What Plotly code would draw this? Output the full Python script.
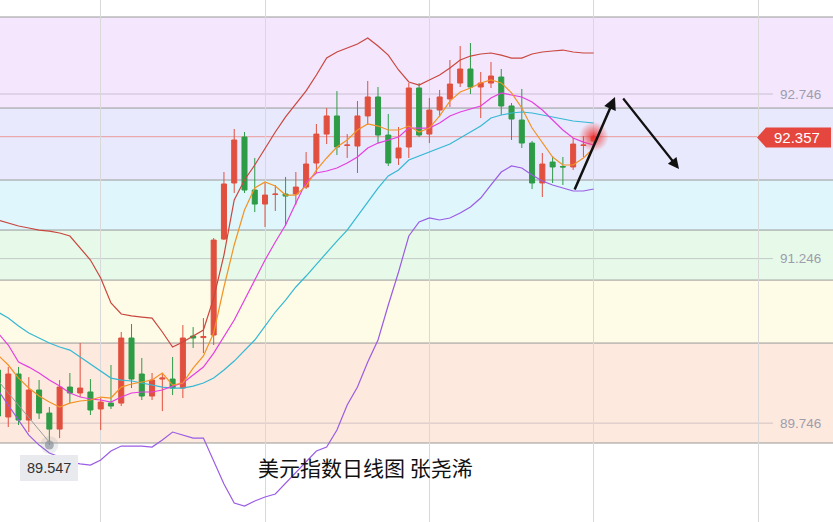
import plotly.graph_objects as go

# ---------------- data ----------------
idx = list(range(59))
opens = [90.230, 89.802, 90.194, 89.774, 90.048, 89.838, 89.692, 90.075, 90.021, 90.030,
         89.875, 89.929, 89.929, 90.522, 90.194, 89.993, 90.148, 90.148, 90.066, 90.540,
         90.526, 90.549, 91.424, 91.935, 92.354, 91.871, 91.743, 91.830, 91.834, 91.834,
         91.898, 92.117, 92.381, 92.546, 92.277, 92.272, 92.546, 92.719, 92.372, 92.163,
         92.263, 92.801, 92.381, 92.600, 92.701, 92.846, 92.974, 92.810, 92.846, 92.901,
         92.637, 92.509, 92.299, 91.935, 92.126, 92.085, 92.081, 92.277, 92.318]
highs = [90.276, 90.258, 90.258, 90.166, 90.139, 89.893, 90.139, 90.203, 90.476, 90.148,
         89.975, 90.276, 90.577, 90.650, 90.340, 90.203, 90.194, 90.349, 90.640, 90.622,
         90.704, 91.433, 92.035, 92.427, 92.400, 92.163, 91.935, 91.917, 91.990, 92.035,
         92.217, 92.473, 92.618, 92.773, 92.381, 92.682, 92.865, 92.810, 92.564, 92.445,
         92.846, 92.846, 92.710, 92.783, 93.056, 93.184, 93.211, 92.947, 93.038, 92.974,
         92.664, 92.792, 92.318, 92.208, 92.181, 92.172, 92.345, 92.363, 92.372]
lows = [89.793, 89.711, 89.729, 89.665, 89.784, 89.547, 89.610, 89.929, 89.984, 89.820,
        89.683, 89.875, 89.902, 90.066, 89.957, 89.957, 89.856, 90.002, 89.975, 90.431,
        90.385, 90.458, 91.415, 91.844, 91.844, 91.670, 91.534, 91.680, 91.543, 91.734,
        91.880, 92.026, 92.290, 92.190, 92.163, 92.026, 92.464, 92.299, 92.090, 92.099,
        92.163, 92.354, 92.299, 92.537, 92.628, 92.810, 92.746, 92.527, 92.801, 92.555,
        92.327, 92.254, 91.880, 91.807, 91.935, 91.917, 92.053, 92.172, 92.299]
closes = [89.811, 90.194, 89.774, 90.048, 89.838, 89.692, 90.075, 90.021, 90.066, 89.866,
          89.938, 89.902, 90.522, 90.148, 89.993, 90.139, 90.157, 90.066, 90.522, 90.522,
          90.536, 91.415, 91.926, 92.327, 91.871, 91.743, 91.825, 91.834, 91.816, 91.898,
          92.108, 92.381, 92.546, 92.263, 92.281, 92.546, 92.719, 92.372, 92.117, 92.254,
          92.801, 92.372, 92.600, 92.719, 92.837, 92.974, 92.810, 92.846, 92.910, 92.637,
          92.518, 92.299, 91.935, 92.108, 92.081, 92.081, 92.290, 92.281, 92.357]

boll_upper = [91.598, 91.571, 91.543, 91.525, 91.506, 91.497, 91.479, 91.452, 91.342, 91.233,
              91.069, 90.841, 90.741, 90.723, 90.713, 90.704, 90.577, 90.440, 90.486, 90.540,
              90.595, 90.886, 91.278, 91.780, 91.962, 92.099, 92.254, 92.400, 92.537, 92.655,
              92.774, 92.919, 93.074, 93.129, 93.165, 93.202, 93.257, 93.184, 93.101, 92.965,
              92.856, 92.828, 92.874, 92.919, 92.983, 93.056, 93.092, 93.111, 93.120, 93.101,
              93.074, 93.074, 93.111, 93.129, 93.138, 93.147, 93.129, 93.120, 93.120]
boll_mid = [90.759, 90.704, 90.631, 90.568, 90.522, 90.476, 90.440, 90.412, 90.348, 90.285,
            90.221, 90.157, 90.139, 90.130, 90.112, 90.093, 90.075, 90.066, 90.066, 90.084,
            90.112, 90.157, 90.230, 90.312, 90.412, 90.504, 90.631, 90.759, 90.868, 90.987,
            91.087, 91.196, 91.306, 91.406, 91.506, 91.634, 91.771, 91.889, 91.999, 92.053,
            92.145, 92.181, 92.218, 92.254, 92.290, 92.345, 92.400, 92.454, 92.527, 92.555,
            92.573, 92.582, 92.573, 92.555, 92.537, 92.518, 92.500, 92.491, 92.482]
boll_lower = [90.048, 89.911, 89.765, 89.637, 89.546, 89.474, 89.437, 89.392, 89.374, 89.364,
              89.410, 89.492, 89.537, 89.537, 89.537, 89.528, 89.592, 89.665, 89.637, 89.610,
              89.610, 89.392, 89.191, 89.018, 88.990, 89.036, 89.073, 89.100, 89.200, 89.300,
              89.392, 89.492, 89.528, 89.683, 89.911, 90.075, 90.303, 90.504, 90.823, 91.124,
              91.452, 91.580, 91.616, 91.598, 91.616, 91.661, 91.716, 91.798, 91.917, 92.035,
              92.090, 92.072, 92.008, 91.953, 91.917, 91.889, 91.862, 91.862, 91.880]
ma5 = [90.367, 90.276, 90.157, 90.066, 89.993, 89.938, 89.893, 89.929, 89.948, 89.957,
       89.984, 89.975, 90.075, 90.103, 90.121, 90.139, 90.203, 90.093, 90.112, 90.248,
       90.358, 90.568, 90.987, 91.370, 91.689, 91.889, 91.944, 91.908, 91.825, 91.825,
       91.908, 92.053, 92.163, 92.263, 92.327, 92.418, 92.473, 92.454, 92.418, 92.418,
       92.454, 92.400, 92.436, 92.546, 92.682, 92.765, 92.801, 92.847, 92.874, 92.847,
       92.756, 92.619, 92.436, 92.299, 92.172, 92.099, 92.099, 92.163, 92.254]
ma10 = [90.568, 90.458, 90.303, 90.257, 90.203, 90.139, 90.084, 90.021, 89.984, 89.966,
        89.957, 89.938, 89.984, 90.021, 90.030, 90.030, 90.048, 90.084, 90.112, 90.185,
        90.257, 90.385, 90.540, 90.686, 90.868, 91.051, 91.233, 91.397, 91.552, 91.752,
        91.944, 92.026, 92.044, 92.072, 92.117, 92.172, 92.254, 92.299, 92.327, 92.354,
        92.436, 92.436, 92.436, 92.482, 92.546, 92.582, 92.610, 92.637, 92.710, 92.756,
        92.737, 92.719, 92.673, 92.600, 92.509, 92.418, 92.345, 92.308, 92.281]

band_edges = [93.448, 92.618, 91.962, 91.506, 91.050, 90.476, 89.565]
band_colors = ["#f3e6fd", "#e9e9fd", "#dff6fc", "#e7fae9", "#fefbe7", "#fde9de"]
level_values = [92.746, 91.246, 89.746]
level_labels = ["92.746", "91.246", "89.746"]
current_price = 92.357
current_label = "92.357"
low_index = 5
low_price = 89.547
low_label = "89.547"
grid_x = [10, 26, 42, 58, 74]
title_text = "美元指数日线图 张尧浠"

# ---------------- layout helpers ----------------
W, H = 833, 522
def px(x):
    return x / W
def py(y):
    return 1 - y / H

RED = "#e1503f"
GREEN = "#2e9c47"
NUMFONT = "Liberation Sans, Arial"

fig = go.Figure()

fig.add_trace(go.Candlestick(
    x=idx, open=opens, high=highs, low=lows, close=closes,
    increasing=dict(line=dict(color=RED, width=1), fillcolor=RED),
    decreasing=dict(line=dict(color=GREEN, width=1), fillcolor=GREEN),
    whiskerwidth=0, hoverinfo="skip", showlegend=False))

line_specs = [
    (boll_upper, "#c9473f"),
    (boll_mid, "#35b8d3"),
    (boll_lower, "#9a5ce4"),
    (ma10, "#e43fe0"),
    (ma5, "#f29325"),
]
for vals, col in line_specs:
    fig.add_trace(go.Scatter(x=idx, y=vals, mode="lines",
                             line=dict(color=col, width=1.2),
                             hoverinfo="skip", showlegend=False))

# soft glow at current price (radial: centre = gradient colour, edge = marker colour)
fig.add_trace(go.Scatter(
    x=[idx[-1]], y=[current_price], mode="markers",
    marker=dict(size=30, color="rgba(240,70,70,0)",
                gradient=dict(type="radial", color="rgba(236,50,50,0.95)"),
                line=dict(width=0)),
    hoverinfo="skip", showlegend=False))

# dot at the low
fig.add_trace(go.Scatter(
    x=[low_index, low_index], y=[low_price, low_price], mode="markers",
    marker=dict(size=[18, 9], color=["rgba(140,146,158,0.25)", "#8b919c"],
                line=dict(width=0)),
    hoverinfo="skip", showlegend=False))

shapes = []
for i, col in enumerate(band_colors):
    shapes.append(dict(type="rect", xref="paper", yref="y", x0=0, x1=1,
                       y0=band_edges[i + 1], y1=band_edges[i],
                       fillcolor=col, line=dict(width=0), layer="below"))
for e in band_edges:
    shapes.append(dict(type="line", xref="paper", yref="y", x0=0, x1=1, y0=e, y1=e,
                       line=dict(color="#999999", width=1), layer="below"))
for v in level_values:
    shapes.append(dict(type="line", xref="paper", yref="y", x0=0, x1=px(773), y0=v, y1=v,
                       line=dict(color="rgba(130,120,140,0.35)", width=1), layer="below"))
shapes.append(dict(type="line", xref="paper", yref="y", x0=0, x1=px(757),
                   y0=current_price, y1=current_price,
                   line=dict(color="#eb9b9b", width=1), layer="below"))
shapes.append(dict(type="line", xref="paper", yref="paper", x0=px(0), y0=py(383),
                   x1=px(50), y1=py(443), line=dict(color="#9a9a9a", width=1), layer="above"))
shapes.append(dict(type="rect", xref="paper", yref="paper", x0=px(20), x1=px(78),
                   y0=py(481), y1=py(455), fillcolor="#e8eaee",
                   line=dict(width=0), layer="above"))
path = "M {} {} L {} {} L {} {} L {} {} L {} {} Z".format(
    px(757), py(137.5), px(766), py(127.5), px(831), py(127.5), px(831), py(147.5), px(766), py(147.5))
shapes.append(dict(type="path", xref="paper", yref="paper", path=path,
                   fillcolor="#e5463d", line=dict(width=0), layer="above"))

annotations = []
for v, t in zip(level_values, level_labels):
    annotations.append(dict(xref="paper", yref="y", x=px(800), y=v, text=t, showarrow=False,
                            xanchor="center", yanchor="middle",
                            font=dict(family=NUMFONT, size=13.5, color="#9d9dad")))
annotations.append(dict(xref="paper", yref="paper", x=px(797), y=py(137.5), text=current_label,
                        showarrow=False, xanchor="center", yanchor="middle",
                        font=dict(family=NUMFONT, size=15, color="white")))
annotations.append(dict(xref="paper", yref="paper", x=px(49), y=py(468), text=low_label,
                        showarrow=False, xanchor="center", yanchor="middle",
                        font=dict(family=NUMFONT, size=14.5, color="#333333")))
annotations.append(dict(xref="paper", yref="paper", x=px(365), y=py(467), text=title_text,
                        showarrow=False, xanchor="center", yanchor="middle",
                        font=dict(family="Noto Sans CJK SC", size=21, color="#111111")))
annotations.append(dict(xref="paper", yref="paper", x=px(615), y=py(97), ax=-41, ay=94,
                        text="", showarrow=True, arrowhead=2, arrowsize=1, arrowwidth=2.5,
                        arrowcolor="#111111"))
annotations.append(dict(xref="paper", yref="paper", x=px(679), y=py(169), ax=-57, ay=-72,
                        text="", showarrow=True, arrowhead=2, arrowsize=1, arrowwidth=2.2,
                        arrowcolor="#111111"))

fig.update_layout(
    width=W, height=H,
    margin=dict(l=0, r=0, t=0, b=0, pad=0),
    paper_bgcolor="white", plot_bgcolor="white",
    showlegend=False,
    shapes=shapes, annotations=annotations,
    xaxis=dict(range=[0.195, 81.3], showgrid=True, tickvals=grid_x, gridcolor="#d9d9d9",
               gridwidth=1, showticklabels=False, zeroline=False, showline=False,
               rangeslider=dict(visible=False), fixedrange=True),
    yaxis=dict(range=[88.845, 93.603], showgrid=False, showticklabels=False,
               zeroline=False, showline=False, fixedrange=True),
    hovermode=False,
)

fig.write_html("out.html", config={"displayModeBar": False, "staticPlot": True},
               post_script="document.body.style.margin='0';document.body.style.overflow='hidden';")
